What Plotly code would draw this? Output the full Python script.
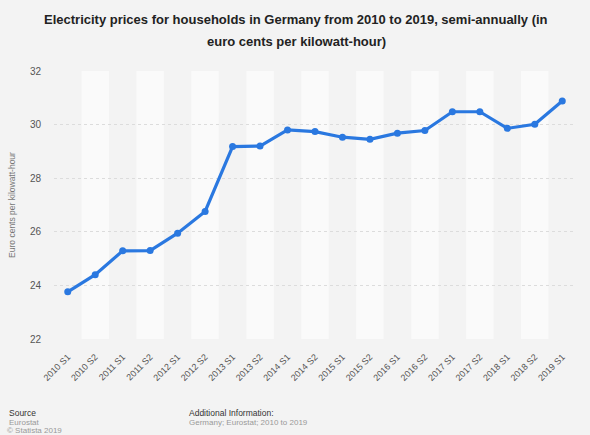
import plotly.graph_objects as go

categories = ["2010 S1", "2010 S2", "2011 S1", "2011 S2", "2012 S1", "2012 S2",
              "2013 S1", "2013 S2", "2014 S1", "2014 S2", "2015 S1", "2015 S2",
              "2016 S1", "2016 S2", "2017 S1", "2017 S2", "2018 S1", "2018 S2",
              "2019 S1"]
prices = [23.76, 24.40, 25.29, 25.30, 25.95, 26.76, 29.18, 29.20, 29.80, 29.74,
          29.53, 29.45, 29.68, 29.78, 30.48, 30.48, 29.86, 30.01, 30.88]
y_ticks = [22, 24, 26, 28, 30, 32]

W, H = 590, 435
L, R, T, B = 42, 14, 71, 96
PW, PH = W - L - R, H - T - B

def px(x):
    return (x - L) / PW

def py(y):
    return (H - B - y) / PH

FONT = "Liberation Sans, Arial, Helvetica, sans-serif"
BLUE = "#2a78e0"

fig = go.Figure()
fig.add_trace(go.Scatter(
    x=categories, y=prices, mode="lines+markers",
    line=dict(color=BLUE, width=3.2),
    marker=dict(color=BLUE, size=7),
    hoverinfo="x+y", showlegend=False,
))

shapes = []
for i in range(len(categories)):
    if i % 2 == 1:
        shapes.append(dict(type="rect", xref="x", yref="paper",
                           x0=i - 0.5, x1=i + 0.5, y0=0, y1=1,
                           fillcolor="#fafafa", line=dict(width=0), layer="below"))

def note(text, x, y, size, color, anchor="left"):
    return dict(text=text, xref="paper", yref="paper", x=px(x), y=py(y),
                xanchor=anchor, yanchor="middle", showarrow=False, borderpad=0,
                font=dict(family=FONT, size=size, color=color))

annotations = [
    note("<b>Electricity prices for households in Germany from 2010 to 2019, semi-annually (in</b>",
         290, 20, 13, "#222222", "center"),
    note("<b>euro cents per kilowatt-hour)</b>", 290, 41, 13, "#222222", "center"),
    note("Source", -5, 413, 8.5, "#333333"),
    note("Eurostat", -5, 422, 8, "#999999"),
    note("© Statista 2019", -7, 430.5, 8, "#999999"),
    note("Additional Information:", 179, 413, 8.5, "#333333"),
    note("Germany; Eurostat; 2010 to 2019", 179, 422, 8, "#999999"),
]

fig.update_layout(
    width=W, height=H,
    margin=dict(l=L, r=R, t=T, b=B, pad=0),
    paper_bgcolor="#f3f3f3", plot_bgcolor="#f3f3f3",
    shapes=shapes, annotations=annotations,
    font=dict(family=FONT),
    xaxis=dict(
        type="category", range=[-0.5, len(categories) - 0.5],
        showgrid=False, zeroline=False, showline=False,
        tickangle=-45, tickfont=dict(family=FONT, size=9, color="#555555"),
        ticks="", ticklabelstandoff=10,
    ),
    yaxis=dict(
        range=[22, 32], tickvals=y_ticks, ticktext=[str(v) for v in y_ticks],
        showgrid=True, gridcolor="#dcdcdc", griddash="dot", gridwidth=1,
        zeroline=False, showline=False, ticks="",
        tickfont=dict(family=FONT, size=10, color="#555555"),
        ticklabelstandoff=12,
        title=dict(text="Euro cents per kilowatt-hour",
                   font=dict(family=FONT, size=8.5, color="#777777"), standoff=12),
    ),
)

fig.write_html("out.html", config={"displayModeBar": False},
               post_script="document.body.style.margin='0';document.body.style.overflow='hidden';")
